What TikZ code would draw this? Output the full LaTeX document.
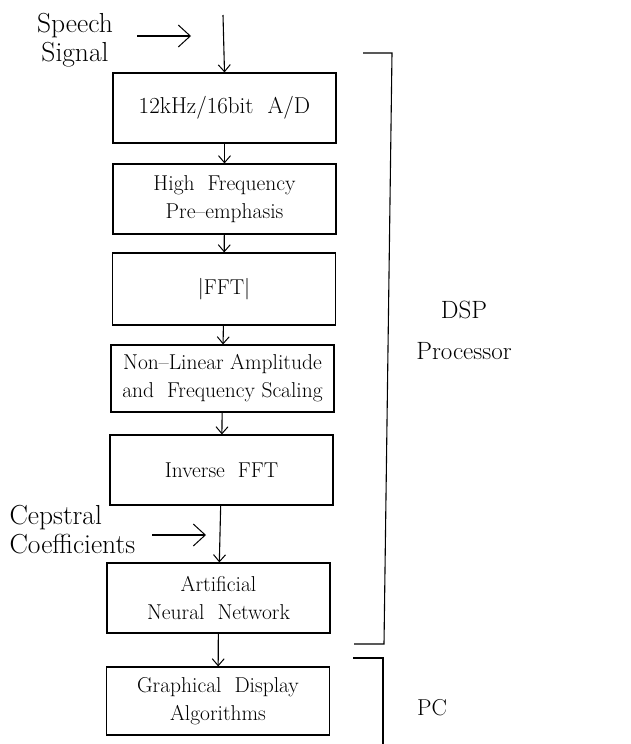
\documentclass[tikz,border=0pt]{standalone}
\usetikzlibrary{arrows.meta}
\begin{document}
\begin{tikzpicture}[x=1pt,y=-1pt,
  line width=1.1pt,
  stage/.style={draw,minimum width=223pt,minimum height=70pt,inner sep=2pt,
    align=center,font=\fontsize{21.5}{28}\selectfont},
  lbl/.style={font=\fontsize{27.5}{29}\selectfont,inner sep=0pt},
  side/.style={font=\fontsize{25}{41}\selectfont,align=center,inner sep=0pt},
  flow/.style={-{Straight Barb[length=7pt,width=12pt,line width=1pt]}},
  feed/.style={-{Straight Barb[length=12pt,width=22pt,line width=1pt]}}]
\useasboundingbox (0,0) rectangle (631,744);

% processing chain
\node[stage,font=\fontsize{23}{28}\selectfont] (ad) at (224.5,108) {12kHz/16bit\ \ A/D};
\node[stage] (pre)  at (224.5,199) {High\ \ Frequency\\Pre--emphasis};
\node[stage,minimum height=72pt] (fft) at (224,289) {\textbar FFT\textbar};
\node[stage,minimum height=67pt] (scale) at (222.5,378.5) {Non--Linear Amplitude\\and\ \ Frequency Scaling};
\node[stage] (ifft) at (221.5,470) {Inverse\ \ FFT};
\node[stage] (ann)  at (218.5,598) {Artificial\\Neural\ \ Network};
\node[stage,minimum height=68pt] (gd) at (218,701) {Graphical\ \ Display\\Algorithms};

\draw[flow] (ad) -- (pre);
\draw[flow] (pre) -- (fft);
\draw[flow] (fft) -- (scale);
\draw[flow] (scale) -- (ifft);
\draw[flow] (ifft) -- (ann);
\draw[flow] (ann) -- (gd);

% speech input
\coordinate (in) at (223,15);
\draw[flow] (in) -- (ad.north);
\node[lbl,align=center] (speech) at (75,40) {Speech\\Signal};
\coordinate (s1) at (137,36);
\coordinate (s2) at (191,36);
\draw[feed] (s1) -- (s2);

% cepstral coefficients
\node[lbl,align=left,anchor=west] (ceps) at (9,530) {Cepstral\\Coefficients};
\coordinate (c1) at (152,535);
\coordinate (c2) at (206,535);
\draw[feed] (c1) -- (c2);

% DSP bracket
\coordinate (d1) at (363,53);
\coordinate (d2) at (392,53);
\coordinate (d3) at (384,644);
\coordinate (d4) at (354,644);
\draw (d1) -- (d2) -- (d3) -- (d4);
\node[side] (dsp) at (464,330) {DSP\\Processor};

% PC bracket
\coordinate (p1) at (353,658);
\coordinate (p2) at (383,658);
\coordinate (p3) at (383,744);
\draw (p1) -- (p2) -- (p3);
\node[side,font=\fontsize{23}{28}\selectfont] (pc) at (432,708) {PC};
\end{tikzpicture}
\end{document}
